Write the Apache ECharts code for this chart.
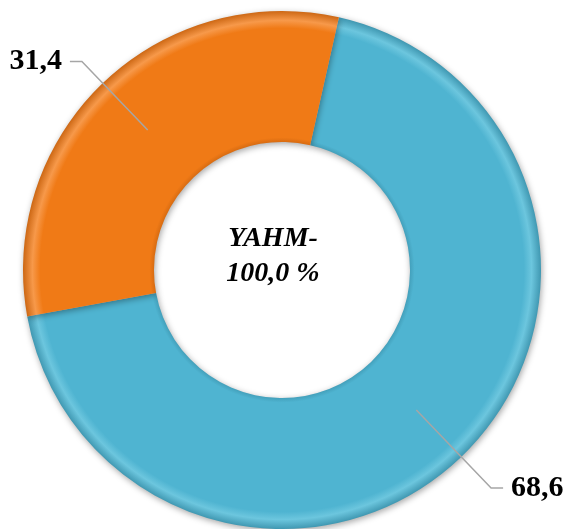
<!DOCTYPE html>
<html>
<head>
<meta charset="utf-8">
<script src="https://cdn.jsdelivr.net/npm/echarts@6/dist/echarts.min.js"></script>
<style>
  html, body { margin: 0; padding: 0; background: #fff; }
  #myChart { width: 566px; height: 529px; }
</style>
</head>
<body>
<div id="myChart"></div>
<script>
// данные диаграммы
var names = ['Синий', 'Оранжевый'];
var values = [68.6, 31.4];
var colors = ['#4fb4d1', '#f07a16'];
var centerText = 'YAHM-\n100,0 %';

var cx = 282, cy = 270;
var serif = 'Liberation Serif';

// кольцевая заливка, чтобы было похоже на объёмный бублик
function ringGradient(base, light, dark) {
  return {
    type: 'radial', x: cx, y: cy, r: 260, global: true,
    colorStops: [
      { offset: 0.48, color: dark },
      { offset: 0.51, color: base },
      { offset: 0.93, color: base },
      { offset: 0.96, color: light },
      { offset: 1, color: dark }
    ]
  };
}
var fills = [
  ringGradient(colors[0], '#6cc6de', '#3b93ad'),
  ringGradient(colors[1], '#f7994a', '#c8620e')
];

function fmt(v) {
  return v.toFixed(1).replace('.', ',');
}

var lineLen = [108, 95];

var myChart = echarts.init(document.getElementById('myChart'));
myChart.setOption({
  animation: false,
  series: [
    {
      type: 'pie',
      center: [cx, cy],
      radius: [128, 259],
      startAngle: 77.3,
      silent: true,
      label: { show: false },
      labelLine: { show: false },
      itemStyle: {
        borderWidth: 0,
        shadowBlur: 6,
        shadowColor: 'rgba(0,0,0,0.35)',
        shadowOffsetX: 1,
        shadowOffsetY: 2
      },
      data: values.map(function (v, i) {
        return { name: names[i], value: v, itemStyle: { color: fills[i] } };
      })
    },
    {
      // невидимый ряд только для подписей и выносок
      type: 'pie',
      center: [cx, cy],
      radius: [0, 194],
      startAngle: 77.3,
      silent: true,
      z: 5,
      itemStyle: { color: 'rgba(0,0,0,0)' },
      label: {
        show: true,
        position: 'outside',
        alignTo: 'none',
        overflow: 'none',
        distanceToLabelLine: 8,
        fontFamily: serif,
        fontWeight: 'bold',
        fontSize: 30,
        color: '#000',
        formatter: function (p) { return fmt(p.value); }
      },
      labelLine: {
        show: true,
        length2: 12,
        lineStyle: { color: '#a6a6a6', width: 1.5 }
      },
      data: values.map(function (v, i) {
        return { name: names[i], value: v, labelLine: { length: lineLen[i] } };
      })
    }
  ],
  graphic: [
    {
      type: 'text',
      x: 273,
      y: 256,
      style: {
        text: centerText,
        align: 'center',
        verticalAlign: 'middle',
        fontFamily: serif,
        fontStyle: 'italic',
        fontWeight: 'bold',
        fontSize: 28,
        lineHeight: 35,
        fill: '#000'
      }
    }
  ]
});
</script>
</body>
</html>
